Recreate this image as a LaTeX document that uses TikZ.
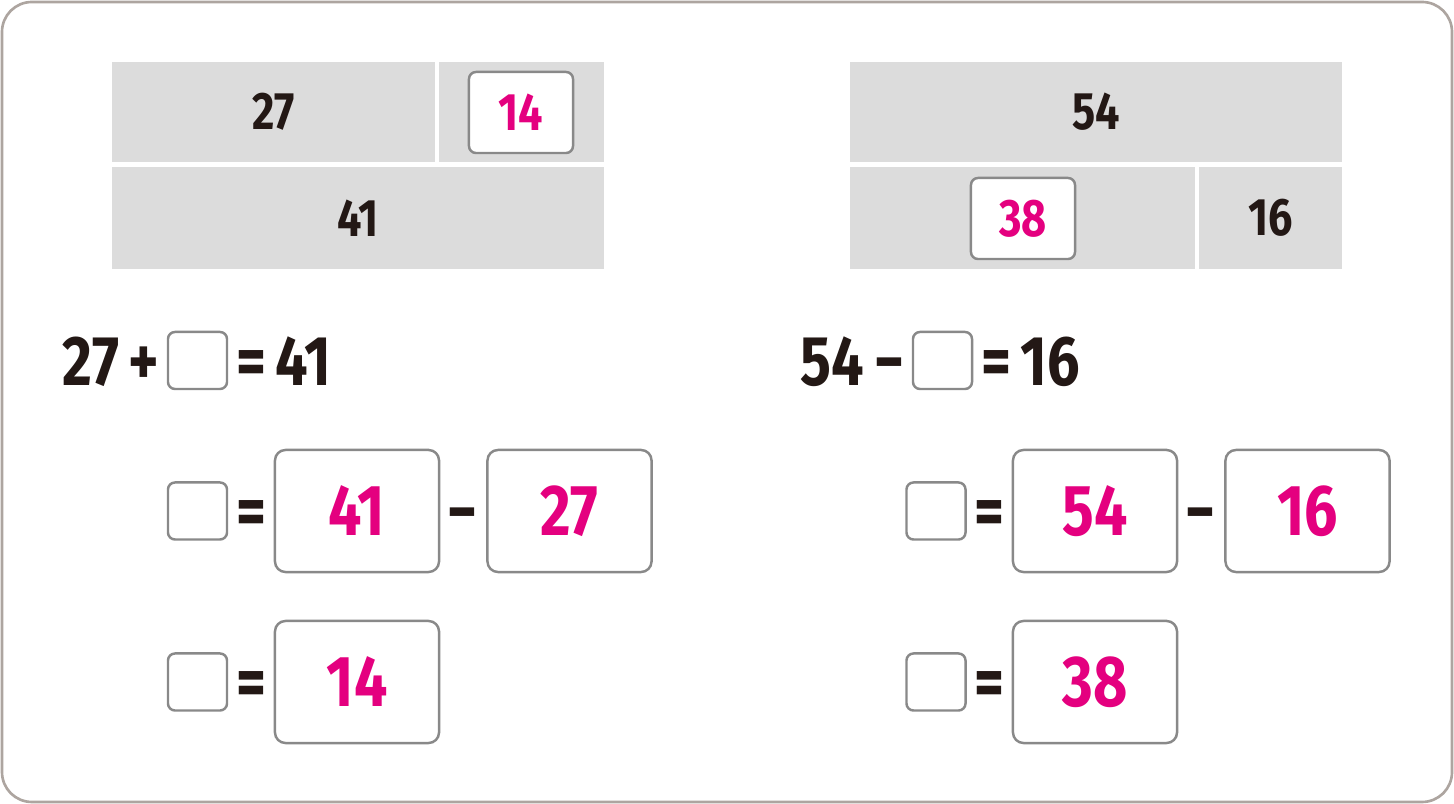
\documentclass[tikz,border=0pt]{standalone}
\usepackage{fontspec}
\setmainfont{Fira Sans}[FakeStretch=0.82]
\definecolor{workInk}{HTML}{231815}
\definecolor{workPink}{HTML}{E4007F}
\definecolor{workGray}{HTML}{DCDCDC}
\definecolor{workLine}{HTML}{898989}
\definecolor{workFrame}{HTML}{ADA5A0}
\tikzset{
  barCell/.style={
    fill=workGray,
    inner sep=0pt,
    text=workInk,
    font=\bfseries\fontsize{15}{15}\selectfont
  },
  hintBox/.style={
    draw=workLine,
    fill=white,
    line width=0.7pt,
    rounded corners=2pt,
    inner sep=0pt,
    minimum width=1.04cm,
    minimum height=0.81cm,
    text=workPink,
    font=\bfseries\fontsize{15}{15}\selectfont
  },
  blankBox/.style={
    draw=workLine,
    fill=white,
    line width=0.7pt,
    rounded corners=2pt,
    inner sep=0pt,
    minimum width=0.59cm,
    minimum height=0.57cm
  },
  answerBox/.style={
    draw=workLine,
    fill=white,
    line width=0.7pt,
    rounded corners=3pt,
    inner sep=0pt,
    minimum width=1.64cm,
    minimum height=1.22cm,
    text=workPink,
    font=\bfseries\fontsize{20.5}{20.5}\selectfont
  },
  eqText/.style={
    inner sep=0pt,
    text height=13.8pt,
    text depth=0pt,
    text=workInk,
    font=\bfseries\fontsize{20}{20}\selectfont
  }
}
\begin{document}
\begin{tikzpicture}[x=0.01cm, y=-0.01cm]
    \useasboundingbox (0,0) rectangle (1454,804);
    \draw[workFrame, line width=0.75pt, rounded corners=8.5pt]
      (2,2) rectangle (1452,802);

    % left bar model
    \node[barCell, minimum width=3.23cm, minimum height=1.00cm] (partA) at (273.5,112) {27};
    \node[barCell, minimum width=1.65cm, minimum height=1.00cm] (partB) at (521.5,112) {};
    \node[barCell, minimum width=4.92cm, minimum height=1.02cm] (wholeL) at (358,218) {41};
    \node[hintBox] (hintL) at (521,112.5) {14};

    % right bar model
    \node[barCell, minimum width=4.92cm, minimum height=1.00cm] (wholeR) at (1096,112) {54};
    \node[barCell, minimum width=3.45cm, minimum height=1.02cm] (partC) at (1022.5,218) {};
    \node[barCell, minimum width=1.43cm, minimum height=1.02cm] (partD) at (1270.5,218) {16};
    \node[hintBox] (hintR) at (1023,218.5) {38};

    % left equations
    \node[eqText] (lA) at (91,361) {27};
    \node[eqText] (lPlus) at (144,361) {+};
    \node[blankBox] (lBlank) at (197.5,360.5) {};
    \node[eqText] (lEq) at (251,361) {=};
    \node[eqText] (lB) at (303.5,361) {41};

    \node[blankBox] (lBlank2) at (197.5,511) {};
    \node[eqText] (lEq2) at (251,511) {=};
    \node[answerBox] (lWhole) at (357,511) {41};
    \node[eqText] (lMinus) at (462.5,511) {−};
    \node[answerBox] (lPart) at (569.5,511) {27};

    \node[blankBox] (lBlank3) at (197.5,682) {};
    \node[eqText] (lEq3) at (251,682) {=};
    \node[answerBox] (lResult) at (357,682) {14};

    % right equations
    \node[eqText] (rA) at (832.5,361) {54};
    \node[eqText] (rMinus) at (889.5,361) {−};
    \node[blankBox] (rBlank) at (942.5,360.5) {};
    \node[eqText] (rEq) at (996,361) {=};
    \node[eqText] (rB) at (1050,361) {16};

    \node[blankBox] (rBlank2) at (936,511) {};
    \node[eqText] (rEq2) at (989,511) {=};
    \node[answerBox] (rWhole) at (1095,511) {54};
    \node[eqText] (rMinus2) at (1200.5,511) {−};
    \node[answerBox] (rPart) at (1307.5,511) {16};

    \node[blankBox] (rBlank3) at (936,682) {};
    \node[eqText] (rEq3) at (989,682) {=};
    \node[answerBox] (rResult) at (1095,682) {38};
\end{tikzpicture}
\end{document}
